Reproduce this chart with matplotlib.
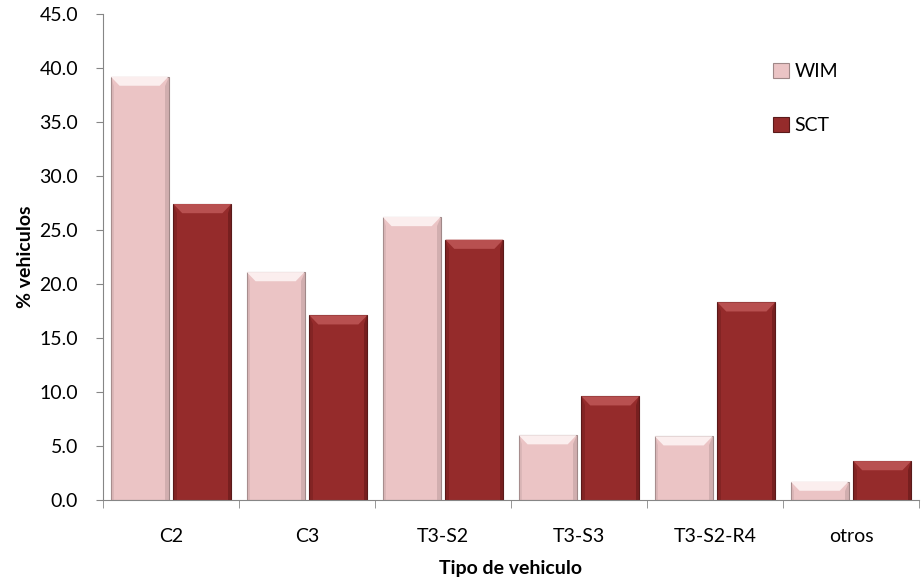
import matplotlib.pyplot as plt
from matplotlib.patches import Polygon
import numpy as np

categories = ["C2", "C3", "T3-S2", "T3-S3", "T3-S2-R4", "otros"]
wim = [39.2, 21.1, 26.2, 6.0, 5.9, 1.7]
sct = [27.4, 17.1, 24.1, 9.6, 18.3, 3.6]

plt.rcParams["font.family"] = ["Lato", "DejaVu Sans"]

fig = plt.figure(figsize=(9.21, 5.8), dpi=100)
ax = fig.add_axes([0.1118, 0.138, 0.886, 0.838])

x = np.arange(len(categories))
w = 0.425
b1 = ax.bar(x - 0.2305, wim, w, color="#ebc4c5", edgecolor="#a08888",
            linewidth=0.8, label="WIM", zorder=2)
b2 = ax.bar(x + 0.2305, sct, w, color="#952b2b", edgecolor="#5a1a1a",
            linewidth=0.8, label="SCT", zorder=2)


def bevel(bars, light, side):
    # fake the excel bevel: light top trapezoid, darker sides
    dx, dy = 0.065, 0.85
    for p in bars:
        x0, y0 = p.get_x(), p.get_y()
        x1, y1 = x0 + p.get_width(), y0 + p.get_height()
        d = min(dy, p.get_height() / 2)
        ax.add_patch(Polygon([(x0, y1), (x1, y1), (x1 - dx, y1 - d), (x0 + dx, y1 - d)],
                             closed=True, facecolor=light, edgecolor="none", zorder=3))
        ax.add_patch(Polygon([(x1, y1), (x1, y0), (x1 - dx * 0.4, y0), (x1 - dx * 0.4, y1 - d)],
                             closed=True, facecolor=side, edgecolor="none", zorder=3, alpha=0.5))
        ax.add_patch(Polygon([(x0, y1), (x0, y0), (x0 + dx * 0.4, y0), (x0 + dx * 0.4, y1 - d)],
                             closed=True, facecolor=side, edgecolor="none", zorder=3, alpha=0.3))


bevel(b1, "#fbeeee", "#b89a9a")
bevel(b2, "#b85050", "#5a1515")

ax.set_xlim(-0.5, len(categories) - 0.5)
ax.set_ylim(0, 45)
ax.set_yticks(np.arange(0, 46, 5))
ax.set_yticklabels([f"{v:.1f}" for v in np.arange(0, 46, 5)], fontsize=14)
ax.set_xticks(x)
ax.set_xticklabels(categories, fontsize=14)
ax.set_xticks(np.arange(-0.5, len(categories)), minor=True)
ax.tick_params(axis="x", which="major", length=0, pad=20)
ax.tick_params(axis="x", which="minor", length=6, color="#868686", direction="out")
ax.tick_params(axis="y", length=5, color="#868686", direction="out", pad=13)

for s in ["top", "right"]:
    ax.spines[s].set_visible(False)
for s in ["left", "bottom"]:
    ax.spines[s].set_color("#868686")

ax.set_ylabel("% vehiculos", fontsize=14, fontweight="bold", labelpad=4)
ax.set_xlabel("Tipo de vehiculo", fontsize=14, fontweight="bold", labelpad=11)

ax.legend(loc="upper left", bbox_to_anchor=(0.80, 0.935), frameon=False,
          fontsize=14, labelspacing=1.9, handlelength=0.8, handleheight=0.8,
          handletextpad=0.3)

fig.savefig("out.png", dpi=100)
